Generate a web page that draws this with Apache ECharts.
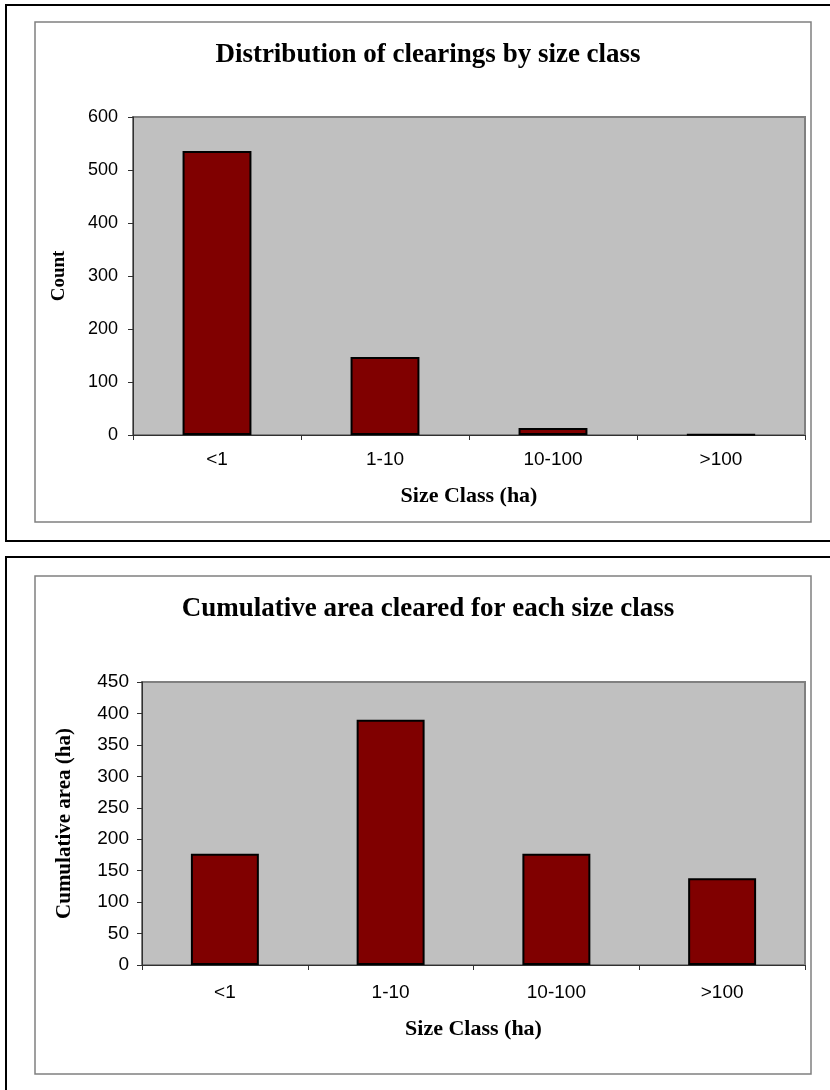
<!DOCTYPE html>
<html>
<head>
<meta charset="utf-8">
<script src="https://cdn.jsdelivr.net/npm/echarts@6/dist/echarts.min.js"></script>
<style>
html,body{margin:0;padding:0;background:#fff;}
#chart{width:830px;height:1090px;}
</style>
</head>
<body>
<div id="chart"></div>
<script>
// ---- data ----
const categories = ['<1', '1-10', '10-100', '>100'];
const clearingCounts = [536, 147, 13, 1];
const cumulativeArea = [177, 390, 177, 138];

const title1 = 'Distribution of clearings by size class';
const title2 = 'Cumulative area cleared for each size class';
const xTitle = 'Size Class (ha)';
const yTitle1 = 'Count';
const yTitle2 = 'Cumulative area (ha)';

// ---- styles ----
const serif = '"Liberation Serif", "Times New Roman", serif';
const sans = '"Liberation Sans", Arial, sans-serif';
const barColor = '#800000';
const plotBg = '#C0C0C0';

const chart = echarts.init(document.getElementById('chart'), null, {renderer: 'canvas'});

function xAxisCfg(gridIndex, labelSize, labelMargin, nameGap) {
  return {
    type: 'category', gridIndex, data: categories,
    boundaryGap: true,
    axisLine: {show: true, lineStyle: {color: '#303030', width: 1}},
    axisTick: {show: true, alignWithLabel: false, length: 5, lineStyle: {color: '#303030'}},
    axisLabel: {color: '#000', fontFamily: sans, fontSize: labelSize, margin: labelMargin},
    splitLine: {show: false},
    name: xTitle, nameLocation: 'middle', nameGap,
    nameTextStyle: {fontFamily: serif, fontWeight: 'bold', fontSize: 22, color: '#000'}
  };
}
function yAxisCfg(gridIndex, max, interval, labelSize, labelMargin, name, nameSize, nameGap) {
  return {
    type: 'value', gridIndex, min: 0, max, interval,
    axisLine: {show: true, lineStyle: {color: '#303030', width: 1}},
    axisTick: {show: true, length: 5, inside: false, lineStyle: {color: '#303030'}},
    axisLabel: {color: '#000', fontFamily: sans, fontSize: labelSize, margin: labelMargin},
    splitLine: {show: false},
    name, nameLocation: 'middle', nameRotate: 90, nameGap,
    nameTextStyle: {fontFamily: serif, fontWeight: 'bold', fontSize: nameSize, color: '#000'}
  };
}
const barStyle = {color: barColor, borderColor: '#000', borderWidth: 2};

chart.setOption({
  animation: false,
  backgroundColor: '#fff',
  title: [
    {text: title1, left: 423, top: 37, textAlign: 'center',
     textStyle: {fontFamily: serif, fontWeight: 'bold', fontSize: 27, color: '#000'}},
    {text: title2, left: 423, top: 591, textAlign: 'center',
     textStyle: {fontFamily: serif, fontWeight: 'bold', fontSize: 27, color: '#000'}}
  ],
  graphic: [
    {type: 'rect', shape: {x: 6, y: 5, width: 840, height: 536}, style: {fill: null, stroke: '#000', lineWidth: 2}, silent: true, z: 0},
    {type: 'rect', shape: {x: 35, y: 22, width: 776, height: 500}, style: {fill: null, stroke: '#808080', lineWidth: 1.5}, silent: true, z: 0},
    {type: 'rect', shape: {x: 6, y: 557, width: 840, height: 600}, style: {fill: null, stroke: '#000', lineWidth: 2}, silent: true, z: 0},
    {type: 'rect', shape: {x: 35, y: 576, width: 776, height: 498}, style: {fill: null, stroke: '#808080', lineWidth: 1.5}, silent: true, z: 0}
  ],
  grid: [
    {left: 133, top: 117, width: 672, height: 318, show: true, backgroundColor: plotBg, borderColor: '#808080', borderWidth: 2},
    {left: 142, top: 682, width: 663, height: 283, show: true, backgroundColor: plotBg, borderColor: '#808080', borderWidth: 2}
  ],
  xAxis: [
    xAxisCfg(0, 19, 15, 50),
    xAxisCfg(1, 19, 18, 53)
  ],
  yAxis: [
    yAxisCfg(0, 600, 100, 18, 15, yTitle1, 19, 64),
    yAxisCfg(1, 450, 50, 19, 13, yTitle2, 21, 67)
  ],
  series: [
    {type: 'bar', xAxisIndex: 0, yAxisIndex: 0, data: clearingCounts, barWidth: '41%', itemStyle: barStyle},
    {type: 'bar', xAxisIndex: 1, yAxisIndex: 1, data: cumulativeArea, barWidth: '41%', itemStyle: barStyle}
  ]
});
</script>
</body>
</html>
